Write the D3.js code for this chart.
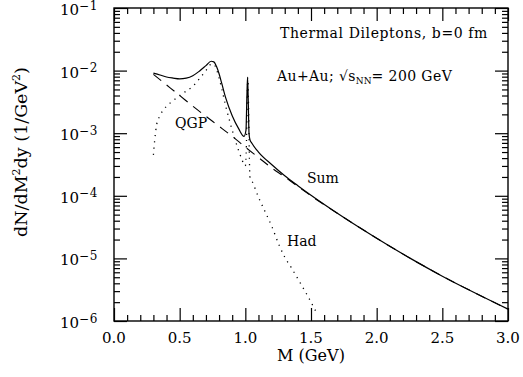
<!DOCTYPE html>
<html>
<head>
<meta charset="utf-8">
<script src="https://cdn.jsdelivr.net/npm/d3@7"></script>
<style>
body{margin:0;background:#fff;}
svg{display:block;font-family:"DejaVu Serif",serif;}
</style>
</head>
<body>
<svg id="canvas" width="523" height="377"></svg>
<script>
// invariant mass (GeV) and dN/dM^2dy (1/GeV^2) for each curve
let sumM=[0.30,0.35,0.40,0.45,0.50,0.55,0.60,0.65,0.70,0.74,0.76,0.78,0.80,0.82,0.85,0.90,0.95,0.99,1.005,1.012,1.017,1.022,1.028,1.035,1.05,1.10,1.20,1.30,1.40,1.50,1.75,2.00,2.25,2.50,2.75,3.00];
let sumV=[9.1e-3,8.5e-3,7.9e-3,7.6e-3,7.4e-3,7.6e-3,8.3e-3,9.8e-3,1.20e-2,1.41e-2,1.38e-2,1.17e-2,8.9e-3,6.3e-3,3.7e-3,1.9e-3,1.17e-3,8.9e-4,1.12e-3,4.0e-3,7.9e-3,3.5e-3,1.0e-3,7.9e-4,6.9e-4,5.0e-4,3.16e-4,2.09e-4,1.45e-4,1.02e-4,4.5e-5,2.1e-5,1.02e-5,5.2e-6,2.8e-6,1.55e-6];

let qgpM=[0.30,0.40,0.50,0.60,0.70,0.80,0.90,1.00,1.10,1.20,1.30,1.40,1.50,1.75,2.00,2.25,2.50,2.75,3.00];
let qgpV=[8.7e-3,5.9e-3,4.0e-3,2.7e-3,1.86e-3,1.29e-3,8.9e-4,6.0e-4,4.1e-4,2.8e-4,2.0e-4,1.41e-4,1.0e-4,4.5e-5,2.1e-5,1.02e-5,5.2e-6,2.8e-6,1.55e-6];

let hadM=[0.30,0.31,0.325,0.35,0.40,0.45,0.50,0.55,0.60,0.65,0.70,0.74,0.76,0.78,0.80,0.82,0.85,0.88,0.91,0.94,0.97,1.00,1.008,1.014,1.019,1.024,1.030,1.035,1.05,1.10,1.15,1.20,1.26,1.30,1.35,1.42,1.48,1.55];
let hadV=[4.5e-4,7.8e-4,1.38e-3,1.9e-3,2.7e-3,3.3e-3,4.0e-3,4.7e-3,5.6e-3,7.4e-3,1.0e-2,1.26e-2,1.26e-2,1.05e-2,7.6e-3,5.2e-3,2.75e-3,1.58e-3,9.5e-4,6.0e-4,4.0e-4,3.0e-4,6.3e-4,3.2e-3,7.6e-3,3.2e-3,5.0e-4,2.0e-4,1.74e-4,9.5e-5,5.6e-5,3.3e-5,1.58e-5,1.05e-5,7.1e-6,4.0e-6,2.4e-6,1.26e-6];

let xTicks=[0,0.5,1,1.5,2,2.5,3];
let xLabels=["0.0","0.5","1.0","1.5","2.0","2.5","3.0"];
let yDecades=[1e-6,1e-5,1e-4,1e-3,1e-2,1e-1];
let yExps=["−6","−5","−4","−3","−2","−1"];

let svg=d3.select("#canvas");
let padL=114,padR=508,padT=8,padB=321;

let xScale=d3.scaleLinear().domain([0,3]).range([padL,padR]);
let yScale=d3.scaleLog().domain([1e-6,1e-1]).range([padB,padT]);

let xMinor=d3.range(0,3.001,0.1).map(v=>+v.toFixed(2)).filter(v=>xTicks.indexOf(v)<0);
let yMinor=[];
yDecades.slice(0,-1).forEach(d=>{for(let k=2;k<10;k++) yMinor.push(d*k);});

// ticks on all four sides, pointing into the frame
function tickAxis(axisFn,scale,vals,len,pos){
  let a=axisFn(scale).tickValues(vals).tickSizeInner(-len).tickSizeOuter(0).tickFormat("");
  let g=svg.append("g").attr("transform",pos).call(a);
  g.select(".domain").remove();
  g.selectAll("line").attr("stroke","#000").attr("stroke-width",1.2);
  return g;
}
tickAxis(d3.axisBottom,xScale,xTicks,13,`translate(0,${padB})`);
tickAxis(d3.axisBottom,xScale,xMinor,6,`translate(0,${padB})`);
tickAxis(d3.axisTop,xScale,xTicks,13,`translate(0,${padT})`);
tickAxis(d3.axisTop,xScale,xMinor,6,`translate(0,${padT})`);
tickAxis(d3.axisLeft,yScale,yDecades,13,`translate(${padL},0)`);
tickAxis(d3.axisLeft,yScale,yMinor,6,`translate(${padL},0)`);
tickAxis(d3.axisRight,yScale,yDecades,13,`translate(${padR},0)`);
tickAxis(d3.axisRight,yScale,yMinor,6,`translate(${padR},0)`);

svg.append("rect").attr("x",padL).attr("y",padT).attr("width",padR-padL).attr("height",padB-padT)
  .attr("fill","none").attr("stroke","#000").attr("stroke-width",1.4);

// x tick labels
svg.append("g").selectAll("text").data(xTicks).enter().append("text")
  .attr("x",d=>xScale(d)).attr("y",padB+22).attr("text-anchor","middle")
  .style("font-size","15px").text((d,i)=>xLabels[i]);

// y tick labels as 10^n
let yl=svg.append("g").selectAll("text").data(yDecades).enter().append("text")
  .attr("x",padL-16).attr("y",d=>yScale(d)+7).attr("text-anchor","end").style("font-size","15px");
yl.append("tspan").text("10");
yl.append("tspan").attr("dy",-5.5).style("font-size","12px").style("letter-spacing","0.6px").text((d,i)=>yExps[i]);

svg.append("text").attr("x",311).attr("y",361).attr("text-anchor","middle")
  .style("font-size","16px").text("M (GeV)");

let ylab=svg.append("text").attr("transform","translate(27,152) rotate(-90)")
  .attr("text-anchor","middle").style("font-size","17.5px");
ylab.append("tspan").text("dN/dM");
ylab.append("tspan").attr("dy",-7).style("font-size","11px").text("2");
ylab.append("tspan").attr("dy",7).text("dy (1/GeV");
ylab.append("tspan").attr("dy",-7).style("font-size","11px").text("2");
ylab.append("tspan").attr("dy",7).text(")");

// curves
function drawCurve(ms,vs,dash,w){
  let pts=ms.map((m,i)=>[m,vs[i]]);
  let line=d3.line().x(d=>xScale(d[0])).y(d=>yScale(d[1])).curve(d3.curveMonotoneX);
  let p=svg.append("path").datum(pts).attr("d",line).attr("fill","none")
    .attr("stroke","#000").attr("stroke-width",w);
  if(dash) p.attr("stroke-dasharray",dash);
  return p;
}
drawCurve(hadM,hadV,"1.2,5",1.3);
drawCurve(qgpM,qgpV,"10,7",1.1);
drawCurve(sumM,sumV,null,1.2);

// annotations
svg.append("text").attr("x",280).attr("y",38).style("font-size","14px").style("letter-spacing","0.6px")
  .text("Thermal Dileptons, b=0 fm");
let au=svg.append("text").attr("x",277).attr("y",81).style("font-size","14px").style("letter-spacing","0.4px");
au.append("tspan").text("Au+Au; √s");
au.append("tspan").attr("dy",3).style("font-size","9px").style("letter-spacing","0px").text("NN");
au.append("tspan").attr("dy",-3).text("= 200 GeV");

svg.append("text").attr("x",175).attr("y",128).style("font-size","14px").text("QGP");
svg.append("text").attr("x",307).attr("y",183).style("font-size","14px").text("Sum");
svg.append("text").attr("x",287).attr("y",246).style("font-size","14px").text("Had");
</script>
</body>
</html>
